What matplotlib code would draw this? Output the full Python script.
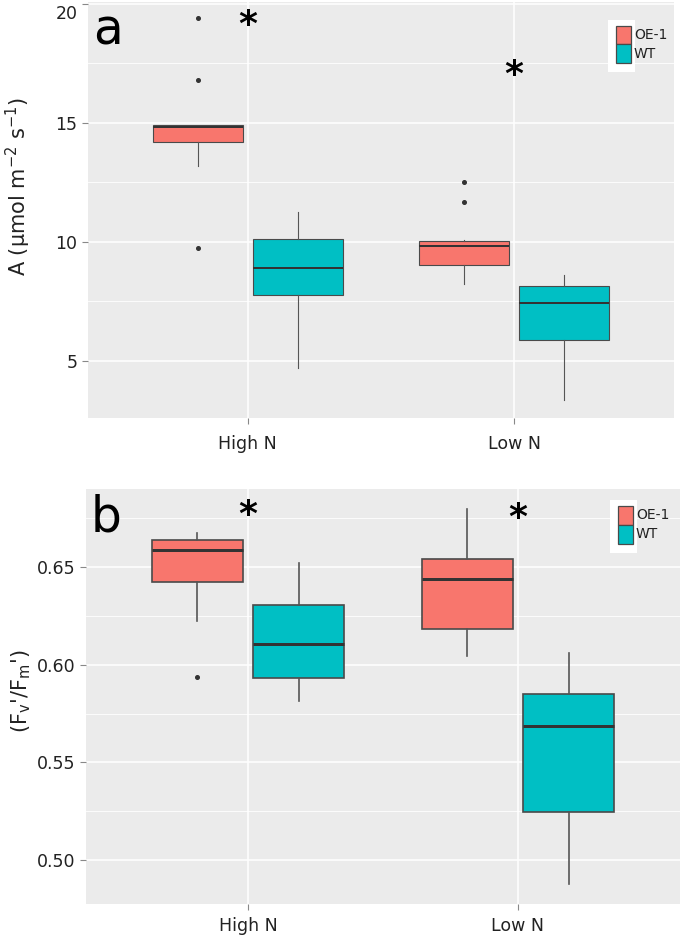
import matplotlib
matplotlib.use('Agg')
import matplotlib.pyplot as plt
from matplotlib.patches import Rectangle
from matplotlib.transforms import ScaledTranslation

# ---- data ----
groups = ['High N', 'Low N']
genotypes = ['OE-1', 'WT']
colors = ['#F8766D', '#00BFC4']

# panel a: A (umol m-2 s-1), order: [High N, Low N]
a_whislo = {'OE-1': [13.19, 8.22], 'WT': [4.68, 3.36]}
a_q1 = {'OE-1': [14.18, 9.02], 'WT': [7.76, 5.88]}
a_med = {'OE-1': [14.82, 9.81], 'WT': [8.88, 7.42]}
a_q3 = {'OE-1': [14.90, 10.03], 'WT': [10.11, 8.14]}
a_whishi = {'OE-1': [14.92, 10.07], 'WT': [11.24, 8.61]}
a_fliers = {'OE-1': [[19.4, 16.8, 9.76], [12.52, 11.67]], 'WT': [[], []]}
a_star = [19.1, 17.0]

# panel b: Fv'/Fm'
b_whislo = {'OE-1': [0.6222, 0.6047], 'WT': [0.5814, 0.4876]}
b_q1 = {'OE-1': [0.6421, 0.6185], 'WT': [0.5930, 0.5248]}
b_med = {'OE-1': [0.6585, 0.6439], 'WT': [0.6107, 0.5687]}
b_q3 = {'OE-1': [0.6636, 0.6541], 'WT': [0.6308, 0.5852]}
b_whishi = {'OE-1': [0.6673, 0.6799], 'WT': [0.6520, 0.6061]}
b_fliers = {'OE-1': [[0.5939], []], 'WT': [[], []]}
b_star = [0.6767, 0.6752]

fig = plt.figure(figsize=(6.85, 9.35), dpi=100)


def panel(rect, whislo, q1, med, q3, whishi, fliers, star, ylim, yticks, minor,
          ylabel, letter, lw, legrect, xpad):
    ax = fig.add_axes(rect)
    ax.set_facecolor('#EBEBEB')
    for s in ax.spines.values():
        s.set_visible(False)
    for m in yticks:
        ax.axhline(m, color='white', lw=1.1, zorder=0)
    for m in minor:
        ax.axhline(m, color='white', lw=0.6, zorder=0)
    for i in range(len(groups)):
        ax.axvline(i + 1, color='white', lw=1.1, zorder=0)

    for k, g in enumerate(genotypes):
        stats = []
        for i in range(len(groups)):
            stats.append(dict(whislo=whislo[g][i], q1=q1[g][i], med=med[g][i],
                              q3=q3[g][i], whishi=whishi[g][i], fliers=fliers[g][i]))
        pos = [i + 1 + (k - 0.5) * 0.375 for i in range(len(groups))]
        ax.bxp(stats, positions=pos, widths=0.3375, patch_artist=True,
               showcaps=False, manage_ticks=False,
               boxprops=dict(facecolor=colors[k], edgecolor='#4a4a4a', lw=lw),
               medianprops=dict(color='#333333', lw=lw * 1.8),
               whiskerprops=dict(color='#555555', lw=lw),
               flierprops=dict(marker='o', markersize=2.6, markerfacecolor='#333333',
                               markeredgecolor='#333333'))

    for i in range(len(groups)):
        ax.text(i + 1, star[i], '*', ha='center', va='center', fontsize=26,
                fontweight='bold', color='black')

    ax.set_xlim(0.4, 2.6)
    ax.set_ylim(*ylim)
    ax.set_xticks([1, 2])
    ax.set_xticklabels(groups, fontsize=12.5, color='#222222')
    ax.set_yticks(yticks)
    ax.set_yticklabels([('%g' % t) if t >= 1 else '%.2f' % t for t in yticks],
                       fontsize=12.5, color='#222222')
    ax.tick_params(length=4, color='#888888', width=0.8)
    ax.tick_params(axis='x', pad=xpad)
    ax.set_ylabel(ylabel, fontsize=15, color='#222222')
    ax.text(0.008, 0.99, letter, transform=ax.transAxes, fontsize=35,
            ha='left', va='top', color='black')

    # legend: small white block behind the keys, like the original
    lx, ly, lw_, lh = legrect
    fig.patches.append(Rectangle((lx, ly), lw_, lh, transform=fig.transFigure,
                                 facecolor='white', edgecolor='none', zorder=5))
    kx = lx + 0.011
    kh = lh * 0.36
    for k, g in enumerate(genotypes):
        ky = ly + lh - 0.006 - (k + 1) * kh
        fig.patches.append(Rectangle((kx, ky), 0.023, kh, transform=fig.transFigure,
                                     facecolor=colors[k], edgecolor='#4a4a4a',
                                     lw=0.9, zorder=6))
        fig.text(kx + 0.027, ky + kh / 2, g, fontsize=10, va='center', ha='left',
                 color='#222222', zorder=7)
    return ax


ax1 = panel([0.1285, 0.553, 0.8555, 0.445], a_whislo, a_q1, a_med, a_q3, a_whishi,
            a_fliers, a_star, (2.6, 20.08), [5, 10, 15, 20], [7.5, 12.5, 17.5],
            r'A ($\mathregular{\mu}$mol m$^{-2}$ s$^{-1}$)', 'a', 0.8,
            (608 / 685, 1 - 72 / 935, 27 / 685, 52 / 935), 8)
ax1.yaxis.set_label_coords(-0.094, 0.555)
# the top tick label sits a little lower in the original, as it would be clipped
top = ax1.get_yticklabels()[-1]
top.set_transform(top.get_transform() + ScaledTranslation(0, -0.08, fig.dpi_scale_trans))

ax2 = panel([0.1255, 0.0328, 0.867, 0.4439], b_whislo, b_q1, b_med, b_q3, b_whishi,
            b_fliers, b_star, (0.4774, 0.6898), [0.50, 0.55, 0.60, 0.65],
            [0.525, 0.575, 0.625, 0.675],
            r"(F$_{\mathregular{v}}$'/F$_{\mathregular{m}}$')", 'b', 1.2,
            (610 / 685, 1 - 553 / 935, 27 / 685, 53 / 935), 5)
ax2.yaxis.set_label_coords(-0.09, 0.514)

fig.savefig('out.png', dpi=100)
